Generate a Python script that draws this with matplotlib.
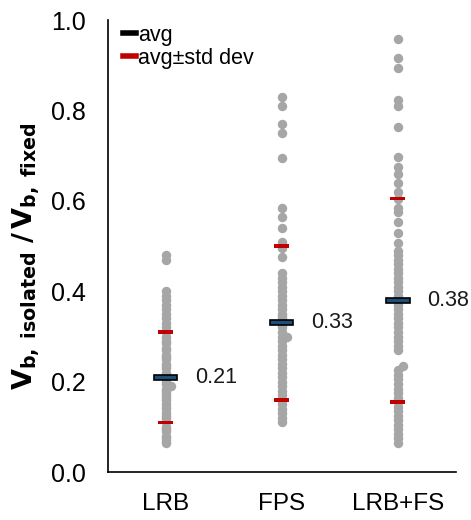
import numpy as np
import matplotlib.pyplot as plt
from matplotlib.lines import Line2D

plt.rcParams['font.family'] = ['Liberation Sans', 'DejaVu Sans']
plt.rcParams['mathtext.fontset'] = 'custom'
plt.rcParams['mathtext.rm'] = 'DejaVu Sans'
plt.rcParams['mathtext.bf'] = 'DejaVu Sans:bold'

# ratio of base shear, isolated vs fixed, per system
categories = ["LRB", "FPS", "LRB+FS"]

lrb = [0.48, 0.47, 0.40, 0.39, 0.38, 0.37, 0.36, 0.35, 0.34, 0.33, 0.32, 0.31,
       0.30, 0.29, 0.285, 0.275, 0.27, 0.26, 0.255, 0.25, 0.24, 0.235, 0.23,
       0.22, 0.215, 0.21, 0.205, 0.20, 0.195, 0.185, 0.18, 0.175, 0.17,
       0.165, 0.16, 0.15, 0.145, 0.14, 0.13, 0.125, 0.12, 0.11, 0.10, 0.095,
       0.09, 0.08, 0.075, 0.07, 0.065]
fps = [0.83, 0.81, 0.77, 0.75, 0.695, 0.585, 0.565, 0.54, 0.51, 0.495, 0.475,
       0.44, 0.43, 0.42, 0.41, 0.40, 0.39, 0.38, 0.37, 0.36, 0.35, 0.345,
       0.34, 0.33, 0.325, 0.32, 0.31, 0.30, 0.29, 0.28, 0.27, 0.26, 0.25,
       0.24, 0.23, 0.22, 0.21, 0.20, 0.19, 0.18, 0.17, 0.16, 0.15, 0.14,
       0.13, 0.12, 0.11]
lrb_fs = [0.958, 0.916, 0.894, 0.823, 0.81, 0.763, 0.697, 0.675, 0.66, 0.64,
          0.62, 0.605, 0.585, 0.575, 0.553, 0.53, 0.507, 0.49, 0.48, 0.47,
          0.46, 0.45, 0.44, 0.43, 0.42, 0.41, 0.40, 0.39, 0.38, 0.37, 0.36,
          0.35, 0.34, 0.33, 0.32, 0.31, 0.30, 0.29, 0.28, 0.27, 0.225, 0.215,
          0.205, 0.195, 0.185, 0.175, 0.165, 0.155, 0.145, 0.135, 0.125,
          0.115, 0.105, 0.095, 0.085, 0.075, 0.064]
# a few points sitting just right of their column
shifted = [[0.19], [0.30], [0.235]]

avg = [0.21, 0.33, 0.38]
std = [0.10, 0.17, 0.225]

series = [lrb, fps, lrb_fs]
xpos = np.arange(1, len(categories) + 1)

fig = plt.figure(figsize=(4.71, 5.2), dpi=100)
ax = fig.add_axes([0.229, 0.092, 0.739, 0.8695])

dot = '#a6a6a6'
for x, vals, sh in zip(xpos, series, shifted):
    ax.plot(np.full(len(vals), x), vals, 'o', color=dot, ms=6.8, mew=0)
    ax.plot(np.full(len(sh), x + 0.04), sh, 'o', color=dot, ms=6.8, mew=0)

avg = np.array(avg)
std = np.array(std)
# avg +/- std dev dashes
for v in (avg + std, avg - std):
    ax.bar(xpos, 0.008, bottom=v - 0.004, width=0.13, color='#c00000', lw=0, zorder=3)
# avg dashes
ax.bar(xpos, 0.011, bottom=avg - 0.0055, width=0.2, color='#1f4e79',
       edgecolor='black', lw=1.2, zorder=4)

for x, a in zip(xpos, avg):
    ax.text(x + 0.255, a, f"{a:.2f}", ha='left', va='center', fontsize=15.5, color='#1a1a1a')

ax.set_xlim(0.5, 3.5)
ax.set_ylim(0, 1.0)
ax.set_xticks(xpos)
ax.set_xticklabels(categories, fontsize=17.5)
ax.set_yticks(np.arange(0, 1.01, 0.2))
ax.set_yticklabels([f"{t:.1f}" for t in np.arange(0, 1.01, 0.2)], fontsize=18)
ax.tick_params(length=0)
ax.tick_params(axis='y', pad=16)
ax.tick_params(axis='x', pad=15)
for s in ['top', 'right']:
    ax.spines[s].set_visible(False)
ax.spines['left'].set_linewidth(1.2)
ax.spines['bottom'].set_linewidth(1.2)

ax.set_ylabel(r'$\mathbf{V_{b,\ isolated}\ /\,V_{b,\ fixed}}$', fontsize=19.5)
ax.yaxis.set_label_coords(-0.19, 0.478)

handles = [Line2D([0], [0], color='black', lw=4),
           Line2D([0], [0], color='#c00000', lw=4)]
ax.legend(handles, ['avg', 'avg\u00b1std dev'], loc='upper left',
          bbox_to_anchor=(0.012, 1.013), frameon=False, fontsize=15.5,
          handlelength=0.6, handletextpad=0.1, labelspacing=0.08, borderpad=0)

fig.savefig('out.png', dpi=100)
